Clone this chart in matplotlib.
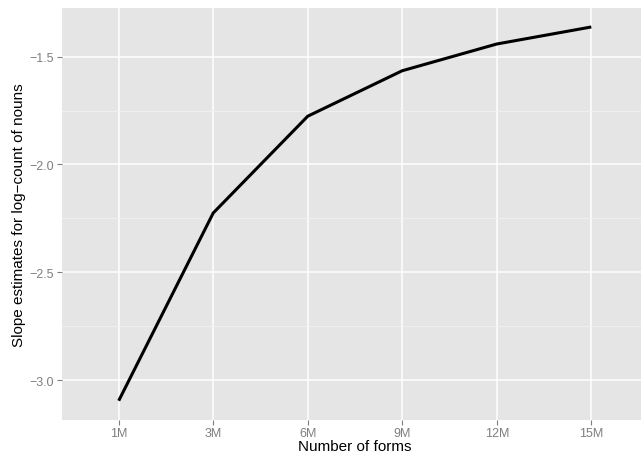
import matplotlib
matplotlib.use("Agg")
import matplotlib.pyplot as plt
from matplotlib.ticker import MultipleLocator

plt.rcParams['font.family'] = ['Liberation Sans', 'DejaVu Sans']

forms = ['1M', '3M', '6M', '9M', '12M', '15M']
slopes = [-3.096, -2.225, -1.776, -1.565, -1.441, -1.362]

fig = plt.figure(figsize=(6.41, 4.64), dpi=100)
W, H = 641, 464
left, right, top, bottom = 62, 648, 9, 420.7
ax = fig.add_axes([left / W, 1 - bottom / H, (right - left) / W, (bottom - top) / H])
ax.set_facecolor('#E5E5E5')

x = list(range(len(forms)))
ax.plot(x, slopes, color='black', lw=2.2, solid_capstyle='butt', zorder=3)

ax.set_xlim(-0.6, len(forms) - 1 + 0.6)
ax.set_ylim(-3.184, -1.274)
ax.set_xticks(x)
ax.set_xticklabels(forms)
ax.yaxis.set_major_locator(MultipleLocator(0.5))
ax.yaxis.set_minor_locator(MultipleLocator(0.25))
ax.yaxis.set_major_formatter(plt.FuncFormatter(lambda v, p: ('%.1f' % v).replace('-', '\u2212')))

ax.grid(which='major', color='white', lw=1.1)
ax.grid(which='minor', axis='y', color='#F2F2F2', lw=0.6)
ax.set_axisbelow(True)
for s in ax.spines.values():
    s.set_visible(False)

ax.tick_params(which='major', colors='#7F7F7F', labelsize=9, length=3.5, width=0.8, pad=2)
ax.tick_params(which='minor', length=0)
ax.tick_params(axis='both', labelcolor='#7F7F7F')

ax.set_xlabel('Number of forms', fontsize=11, labelpad=0)
ax.set_ylabel('Slope estimates for log\u2212count of nouns', fontsize=11, labelpad=3)

fig.savefig('out.png', dpi=100)
